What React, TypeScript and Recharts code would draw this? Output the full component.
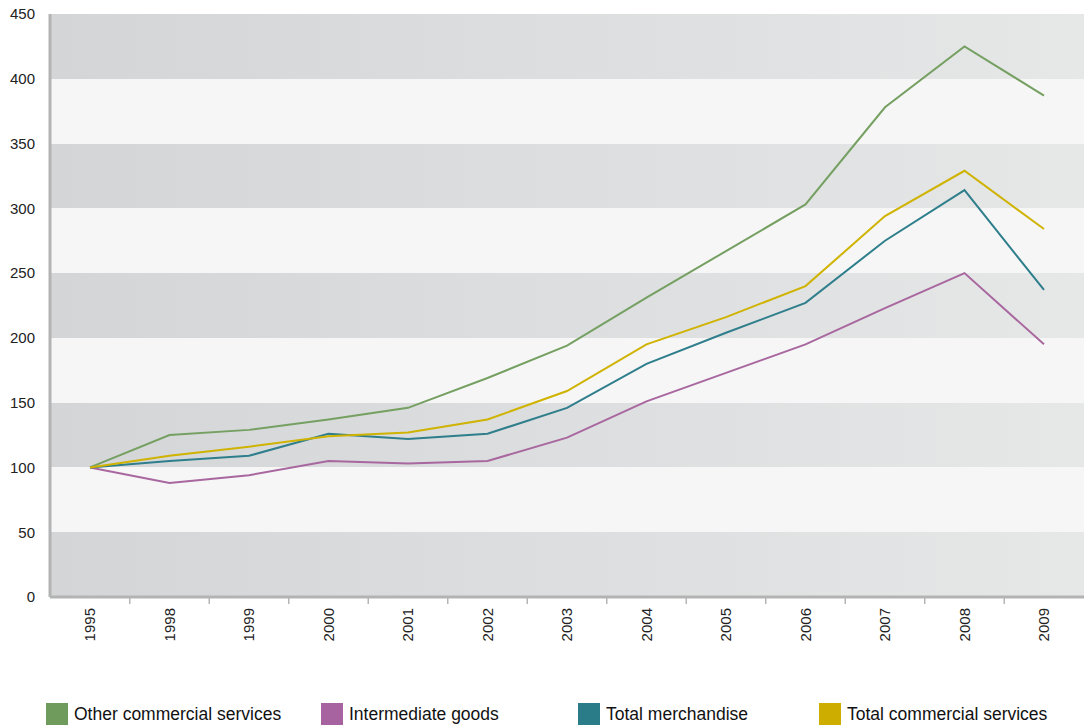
import React from 'react';
import {
  LineChart,
  Line,
  XAxis,
  YAxis,
  CartesianGrid
} from 'recharts';

const years = ['1995', '1998', '1999', '2000', '2001', '2002', '2003', '2004', '2005', '2006', '2007', '2008', '2009'];

const otherCommercialServices = [100, 125, 129, 137, 146, 169, 194, 231, 267, 303, 378, 425, 387];
const intermediateGoods = [100, 88, 94, 105, 103, 105, 123, 151, 173, 195, 223, 250, 195];
const totalMerchandise = [100, 105, 109, 126, 122, 126, 146, 180, 204, 227, 275, 314, 237];
const totalCommercialServices = [100, 109, 116, 124, 127, 137, 159, 195, 216, 240, 294, 329, 284];

const yTicks = [0, 50, 100, 150, 200, 250, 300, 350, 400, 450];

const seriesDefs = [
  { key: 'other', name: 'Other commercial services', color: '#75a062', swatch: '#6f9c5c' },
  { key: 'intermediate', name: 'Intermediate goods', color: '#a8679f', swatch: '#a7639f' },
  { key: 'merchandise', name: 'Total merchandise', color: '#2f7e8c', swatch: '#2b7c89' },
  { key: 'commercial', name: 'Total commercial services', color: '#cfb300', swatch: '#cdae00' }
];

const data = years.map((year, i) => ({
  year,
  other: otherCommercialServices[i],
  intermediate: intermediateGoods[i],
  merchandise: totalMerchandise[i],
  commercial: totalCommercialServices[i]
}));

const FONT = '"Liberation Sans", Arial, Helvetica, sans-serif';
const STEP = 79.5;

const YearTick = (props: any) => {
  const { x, y, payload, index } = props;
  return (
    <g>
      {index < years.length - 1 && (
        <line x1={x + STEP / 2} x2={x + STEP / 2} y1={y + 1} y2={y + 7} stroke="#b5b5b5" strokeWidth={1.5} />
      )}
      <text
        x={x}
        y={y + 11}
        transform={`rotate(-90, ${x}, ${y + 11})`}
        textAnchor="end"
        dy="0.35em"
        fill="#222"
        fontSize={15}
        fontFamily={FONT}
      >
        {payload.value}
      </text>
    </g>
  );
};

// legend swatch / label positions along the bottom row
const legendX = [46, 321, 578, 819];

export default function App() {
  return (
    <div style={{ position: 'absolute', left: 0, top: 0, width: 1084, height: 725, background: '#fff', overflow: 'hidden' }}>
      <LineChart width={1084} height={725} data={data} margin={{ top: 14, right: 0, left: 0, bottom: 78 }}>
        <defs>
          <linearGradient id="bandFill" x1="0" y1="0" x2="1" y2="0">
            <stop offset="0%" stopColor="#d3d5d7" />
            <stop offset="100%" stopColor="#e6e7e7" />
          </linearGradient>
        </defs>
        <CartesianGrid
          vertical={false}
          stroke="none"
          horizontalFill={['url(#bandFill)', '#f6f6f6']}
          fillOpacity={1}
        />
        <XAxis
          dataKey="year"
          padding={{ left: 40, right: 40 }}
          interval={0}
          height={50}
          tickSize={0}
          tickMargin={0}
          tickLine={false}
          axisLine={{ stroke: '#b3b3b3', strokeWidth: 3 }}
          tick={<YearTick />}
        />
        <YAxis
          domain={[0, 450]}
          ticks={yTicks}
          width={50}
          tickLine={false}
          tickMargin={9}
          axisLine={{ stroke: '#b3b3b3', strokeWidth: 3 }}
          tick={{ fill: '#222', fontSize: 15, fontFamily: FONT }}
        />
        {seriesDefs.map((s) => (
          <Line
            key={s.key}
            type="linear"
            dataKey={s.key}
            name={s.name}
            stroke={s.color}
            strokeWidth={2}
            dot={false}
            activeDot={false}
            isAnimationActive={false}
          />
        ))}
      </LineChart>
      {seriesDefs.map((s, i) => (
        <div
          key={s.key}
          style={{
            position: 'absolute',
            left: legendX[i],
            top: 703,
            display: 'flex',
            alignItems: 'center',
            fontFamily: FONT,
            fontSize: 17.5,
            color: '#111',
            whiteSpace: 'nowrap'
          }}
        >
          <span style={{ display: 'inline-block', width: 22, height: 22, background: s.swatch, marginRight: 6 }} />
          <span>{s.name}</span>
        </div>
      ))}
    </div>
  );
}
